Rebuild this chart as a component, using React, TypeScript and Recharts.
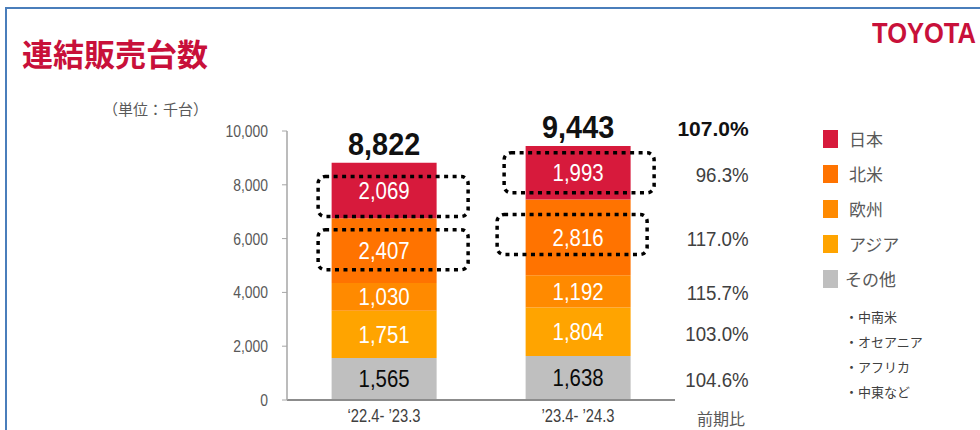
import React from "react";
import { BarChart, Bar, XAxis, YAxis, LabelList } from "recharts";

const categories = ["‘22.4- ’23.3", "’23.4- ’24.3"];
const other = [1565, 1638];
const asia = [1751, 1804];
const europe = [1030, 1192];
const northAmerica = [2407, 2816];
const japan = [2069, 1993];
const totals = [8822, 9443];
const yoyOther = "104.6%";
const yoyAsia = "103.0%";
const yoyEurope = "115.7%";
const yoyNorthAmerica = "117.0%";
const yoyJapan = "96.3%";
const yoyTotal = "107.0%";
const yTicks = [0, 2000, 4000, 6000, 8000, 10000];
const otherRegions = ["・中南米", "・オセアニア", "・アフリカ", "・中東など"];

const data = categories.map((c, i) => ({
  name: c,
  other: other[i],
  asia: asia[i],
  europe: europe[i],
  northAmerica: northAmerica[i],
  japan: japan[i],
  total: totals[i],
}));

const series = [
  { key: "other", name: "その他", color: "#BFBFBF", text: "#0a0a0a", yoy: yoyOther, box: false },
  { key: "asia", name: "アジア", color: "#FFA400", text: "#ffffff", yoy: yoyAsia, box: false },
  { key: "europe", name: "欧州", color: "#FF8A00", text: "#ffffff", yoy: yoyEurope, box: false },
  { key: "northAmerica", name: "北米", color: "#FF7300", text: "#ffffff", yoy: yoyNorthAmerica, box: true },
  { key: "japan", name: "日本", color: "#D71A3C", text: "#ffffff", yoy: yoyJapan, box: true },
];

const legendOrder = ["japan", "northAmerica", "europe", "asia", "other"];

const NUM_FONT = "'Liberation Sans', Arial, sans-serif";
const JP_FONT = "'Noto Sans CJK JP', 'Noto Sans', sans-serif";
const NARROW = 0.82;

const boxOffsets: Record<string, number[][]> = {
  japan: [[9, 6], [1, 0]],
  northAmerica: [[9, -1], [-6, -3]],
};

const fmt = (v: number) => v.toLocaleString("en-US");

function NarrowText(props: any) {
  const { x, y, anchor, children, scale = NARROW, ...rest } = props;
  return (
    <g transform={`translate(${x},${y}) scale(${scale},1)`}>
      <text x={0} y={0} textAnchor={anchor} {...rest}>
        {children}
      </text>
    </g>
  );
}

function SegmentLabel(props: any, s: any) {
  const { x, y, width, height, value, index } = props;
  const cx = Number(x) + Number(width) / 2;
  const cy = Number(y) + Number(height) / 2;
  const off = s.box ? boxOffsets[s.key][index] : [0, 0];
  return (
    <g>
      <NarrowText
        x={cx}
        y={cy + 8.5}
        anchor="middle"
        scale={0.85}
        fill={s.text}
        fontFamily={NUM_FONT}
        fontSize={24}
      >
        {fmt(Number(value))}
      </NarrowText>
      {s.box ? (
        <rect
          x={cx + off[0] - 75}
          y={cy + off[1] - 20}
          width={150}
          height={40}
          rx={7}
          fill="none"
          stroke="#000"
          strokeWidth={3.5}
          strokeDasharray="4 4.5"
        />
      ) : null}
    </g>
  );
}

function YoyLabel(props: any, s: any) {
  const { x, y, width, height, index } = props;
  if (index !== 1) return null;
  const cy = Number(y) + Number(height) / 2;
  return (
    <NarrowText
      x={Number(x) + Number(width) + 118}
      y={cy + 9}
      anchor="end"
      scale={0.89}
      fill="#404040"
      fontFamily={NUM_FONT}
      fontSize={21}
    >
      {s.yoy}
    </NarrowText>
  );
}

function TotalLabel(props: any) {
  const { x, y, width, index } = props;
  const cx = Number(x) + Number(width) / 2;
  return (
    <g>
      <NarrowText
        x={cx}
        y={Number(y) - 8}
        anchor="middle"
        scale={0.9}
        fill="#111"
        fontFamily={NUM_FONT}
        fontWeight="bold"
        fontSize={32}
      >
        {fmt(totals[index])}
      </NarrowText>
      {index === 1 ? (
        <NarrowText
          x={Number(x) + Number(width) + 118}
          y={Number(y) - 10}
          anchor="end"
          scale={1}
          fill="#111"
          fontFamily={NUM_FONT}
          fontWeight="bold"
          fontSize={21}
        >
          {yoyTotal}
        </NarrowText>
      ) : null}
    </g>
  );
}

function YTick(props: any) {
  const { x, y, payload } = props;
  return (
    <NarrowText x={x} y={Number(y) + 6} anchor="end" fill="#595959" fontFamily={NUM_FONT} fontSize={17}>
      {fmt(payload.value)}
    </NarrowText>
  );
}

function XTick(props: any) {
  const { x, y, payload } = props;
  return (
    <NarrowText x={x} y={Number(y) + 14} anchor="middle" fill="#404040" fontFamily={NUM_FONT} fontSize={18}>
      {payload.value}
    </NarrowText>
  );
}

function LegendBox() {
  return (
    <div style={{ position: "absolute", left: 823, top: 121, fontFamily: JP_FONT, color: "#595959" }}>
      {legendOrder.map((k) => {
        const s = series.find((q) => q.key === k)!;
        return (
          <div key={k} style={{ display: "flex", alignItems: "center", height: 35 }}>
            <div style={{ width: 15, height: 18, background: s.color, marginRight: k === "other" ? 7 : 11 }} />
            <span style={{ fontSize: 17 }}>{s.name}</span>
          </div>
        );
      })}
      <div style={{ marginTop: 8, marginLeft: 22, color: "#404040" }}>
        {otherRegions.map((r) => (
          <div key={r} style={{ fontSize: 13, height: 25, lineHeight: "25px", whiteSpace: "nowrap" }}>
            {r}
          </div>
        ))}
      </div>
    </div>
  );
}

export default function App() {
  return (
    <div
      style={{
        position: "absolute",
        left: 0,
        top: 0,
        width: 980,
        height: 430,
        background: "#fff",
        overflow: "hidden",
      }}
    >
      <div
        style={{
          position: "absolute",
          left: 5,
          top: 7,
          width: 990,
          height: 440,
          borderTop: "2px solid #4A7EBB",
          borderLeft: "2px solid #4A7EBB",
        }}
      />
      <div
        style={{
          position: "absolute",
          left: 22,
          top: 30,
          fontFamily: JP_FONT,
          fontWeight: "bold",
          fontSize: 31,
          color: "#C8103A",
          lineHeight: "46px",
          whiteSpace: "nowrap",
        }}
      >
        連結販売台数
      </div>
      <div
        style={{
          position: "absolute",
          left: 872,
          top: 16,
          fontFamily: NUM_FONT,
          fontWeight: "bold",
          fontSize: 29,
          color: "#C8103A",
          lineHeight: "34px",
          transform: "scaleX(0.88)",
          transformOrigin: "0 0",
          whiteSpace: "nowrap",
        }}
      >
        TOYOTA
      </div>
      <div
        style={{
          position: "absolute",
          left: 103,
          top: 98,
          fontFamily: JP_FONT,
          fontSize: 15,
          color: "#595959",
          lineHeight: "22px",
          whiteSpace: "nowrap",
        }}
      >
        （単位：千台）
      </div>
      <div
        style={{
          position: "absolute",
          left: 697,
          top: 406,
          fontFamily: JP_FONT,
          fontSize: 16,
          color: "#595959",
          lineHeight: "24px",
        }}
      >
        前期比
      </div>
      <LegendBox />
      <div style={{ position: "absolute", left: 0, top: 0 }}>
        <BarChart
          width={980}
          height={430}
          data={data}
          margin={{ top: 131, right: 305, bottom: 0, left: 227 }}
          barCategoryGap="23%"
        >
          <XAxis
            dataKey="name"
            height={30}
            tickLine={false}
            axisLine={{ stroke: "#8C8C8C", strokeWidth: 2 }}
            tick={<XTick />}
          />
          <YAxis
            width={60}
            domain={[0, 10000]}
            ticks={yTicks}
            axisLine={{ stroke: "#A6A6A6", strokeWidth: 1.5 }}
            tickLine={{ stroke: "#A6A6A6" }}
            tickSize={5}
            tickMargin={14}
            tick={<YTick />}
          />
          {series.map((s) => (
            <Bar
              key={s.key}
              dataKey={s.key}
              name={s.name}
              stackId="a"
              fill={s.color}
              isAnimationActive={false}
            >
              <LabelList dataKey={s.key} content={(p: any) => SegmentLabel(p, s)} />
              <LabelList dataKey={s.key} content={(p: any) => YoyLabel(p, s)} />
              {s.key === "japan" ? (
                <LabelList dataKey="total" content={(p: any) => TotalLabel(p)} />
              ) : null}
            </Bar>
          ))}
        </BarChart>
      </div>
    </div>
  );
}
